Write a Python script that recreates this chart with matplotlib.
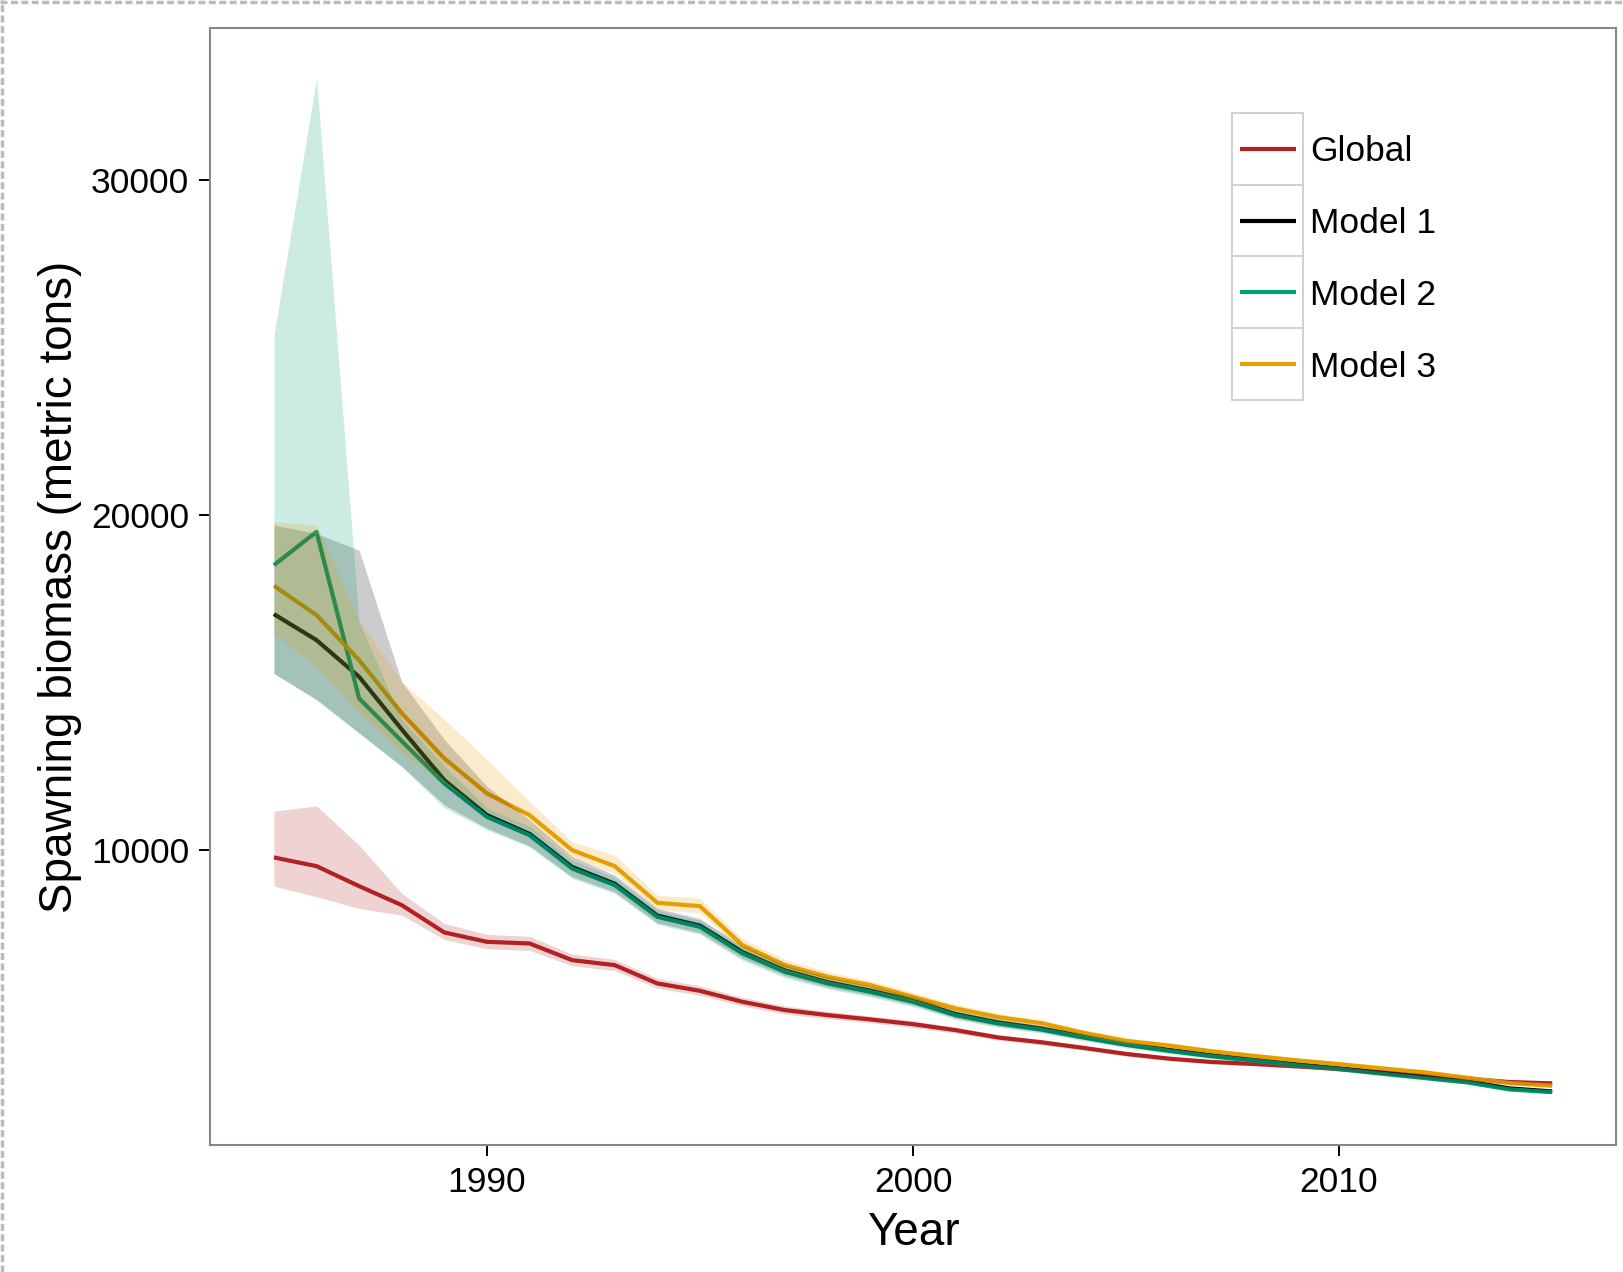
import numpy as np
import matplotlib
matplotlib.use("Agg")
import matplotlib.pyplot as plt
from matplotlib.lines import Line2D
from matplotlib.patches import Rectangle

plt.rcParams['font.family'] = ['Liberation Sans', 'DejaVu Sans']

years = list(range(1985, 2016))

series = ["Global", "Model 1", "Model 2", "Model 3"]
colors = {"Global": "#B22222", "Model 1": "#000000",
          "Model 2": "#009E73", "Model 3": "#E69F00"}

# spawning biomass estimates (metric tons) with lower / upper bounds
global_mid = [9777, 9517, 8920, 8353, 7537, 7257, 7208, 6710, 6561, 6014, 5794,
              5465, 5217, 5068, 4939, 4799, 4620, 4400, 4260, 4090, 3910, 3770,
              3670, 3610, 3540, 3460, 3370, 3270, 3170, 3070, 3030]
global_lo = [8920, 8601, 8254, 8054, 7328, 7050, 7000, 6540, 6400, 5870, 5660,
             5340, 5100, 4960, 4840, 4700, 4530, 4320, 4180, 4020, 3840, 3710,
             3610, 3550, 3480, 3400, 3310, 3210, 3110, 3010, 2970]
global_hi = [11160, 11318, 10144, 8702, 7806, 7480, 7420, 6890, 6730, 6170, 5940,
             5600, 5340, 5180, 5040, 4900, 4710, 4480, 4340, 4160, 3980, 3830,
             3730, 3670, 3600, 3520, 3430, 3330, 3230, 3130, 3090]

m1_mid = [17043, 16266, 15171, 13600, 12085, 11040, 10480, 9490, 8990, 8040, 7740,
          6950, 6400, 6050, 5800, 5500, 5100, 4850, 4670, 4430, 4210, 4030,
          3870, 3740, 3600, 3480, 3350, 3220, 3090, 2880, 2790]
m1_lo = [15270, 14500, 13500, 12500, 11350, 10650, 10120, 9200, 8750, 7820, 7530,
         6760, 6240, 5900, 5660, 5370, 4980, 4740, 4570, 4340, 4130, 3960,
         3800, 3680, 3540, 3420, 3290, 3170, 3040, 2840, 2750]
m1_hi = [19700, 19450, 18950, 15020, 13300, 11900, 10900, 9800, 9250, 8260, 7950,
         7140, 6560, 6200, 5940, 5630, 5220, 4960, 4770, 4520, 4290, 4100,
         3940, 3800, 3660, 3540, 3410, 3270, 3140, 2920, 2830]

m2_mid = [18506, 19500, 14525, 13250, 11990, 10990, 10443, 9447, 8950, 8003, 7704,
          6910, 6361, 6014, 5764, 5465, 5068, 4820, 4640, 4400, 4180, 4000,
          3840, 3710, 3570, 3455, 3320, 3190, 3060, 2850, 2768]
m2_lo = [15272, 14475, 13480, 12483, 11260, 10600, 10093, 9150, 8700, 7780, 7480,
         6700, 6180, 5850, 5610, 5320, 4940, 4700, 4530, 4300, 4090, 3920,
         3770, 3650, 3510, 3400, 3270, 3140, 3010, 2800, 2720]
m2_hi = [25377, 33040, 16800, 13900, 12500, 11250, 10700, 9700, 9180, 8200, 7900,
         7080, 6520, 6160, 5900, 5590, 5180, 4930, 4740, 4490, 4260, 4070,
         3900, 3770, 3630, 3510, 3370, 3240, 3110, 2900, 2810]

m3_mid = [17889, 17013, 15669, 14086, 12733, 11688, 11040, 9995, 9517, 8422, 8323,
          7158, 6561, 6212, 5964, 5614, 5268, 5010, 4830, 4540, 4300, 4160,
          3990, 3850, 3720, 3605, 3480, 3360, 3200, 3040, 2960]
m3_lo = [16460, 15470, 14085, 12890, 12000, 11150, 10650, 9750, 9300, 8230, 8120,
         6980, 6400, 6070, 5830, 5490, 5150, 4900, 4720, 4440, 4210, 4070,
         3910, 3770, 3650, 3530, 3410, 3290, 3130, 2980, 2900]
m3_hi = [19800, 19700, 16860, 15020, 13900, 12700, 11450, 10244, 9850, 8650, 8560,
         7350, 6730, 6360, 6100, 5740, 5390, 5120, 4940, 4640, 4390, 4250,
         4070, 3930, 3790, 3680, 3550, 3430, 3270, 3100, 3020]

mids = {"Global": global_mid, "Model 1": m1_mid, "Model 2": m2_mid, "Model 3": m3_mid}
lows = {"Global": global_lo, "Model 1": m1_lo, "Model 2": m2_lo, "Model 3": m3_lo}
highs = {"Global": global_hi, "Model 1": m1_hi, "Model 2": m2_hi, "Model 3": m3_hi}

W, H = 1623, 1272
fig = plt.figure(figsize=(W / 100, H / 100), dpi=100)
ax = fig.add_axes([210 / W, 1 - 1145 / H, 1406 / W, 1117 / H])

# lines first, ribbons on top (ggplot layer order)
for s in series:
    ax.plot(years, mids[s], color=colors[s], lw=3.0, solid_capstyle='butt',
            solid_joinstyle='round', zorder=2)
for s in series:
    ax.fill_between(years, lows[s], highs[s], color=colors[s], alpha=0.2,
                    lw=0, zorder=3)

ax.set_xlim(1983.5, 2016.5)
ax.set_ylim(1190, 34545)
ax.set_xticks([1990, 2000, 2010])
ax.set_yticks([10000, 20000, 30000])
ax.tick_params(length=8, width=1.4, color='black', labelsize=25.5, pad=7)
for sp in ax.spines.values():
    sp.set_color('#888888')
    sp.set_linewidth(1.5)

ax.set_xlabel("Year", fontsize=33)
ax.set_ylabel("Spawning biomass (metric tons)", fontsize=33)
ax.xaxis.label.set_va('center')
ax.yaxis.label.set_va('center')
ax.xaxis.set_label_coords(0.5, -0.079)
ax.yaxis.set_label_coords(-0.107, 0.5)

# legend: one bordered key per series
key_l, key_w, key_top, key_h = 1232, 71, 113, 71.75
for i, s in enumerate(series):
    top = key_top + i * key_h
    fig.add_artist(Rectangle((key_l / W, 1 - (top + key_h) / H), key_w / W, key_h / H,
                             transform=fig.transFigure, facecolor='white',
                             edgecolor='#d0d0d0', lw=1.4, zorder=5))
    yc = 1 - (top + key_h / 2) / H
    fig.add_artist(Line2D([1240 / W, 1296 / W], [yc, yc], transform=fig.transFigure,
                          color=colors[s], lw=3.0, solid_capstyle='butt', zorder=6))
    fig.text(1310 / W, yc - 3 / H, s, fontsize=25.5, va='center', ha='left', zorder=6)

# dashed page edge along top and left
fig.add_artist(Line2D([0, 1], [1 - 2 / H, 1 - 2 / H], transform=fig.transFigure,
                      color='#bbbbbb', lw=2.5, ls=(0, (2, 1))))
fig.add_artist(Line2D([2 / W, 2 / W], [0, 1], transform=fig.transFigure,
                      color='#bbbbbb', lw=2.5, ls=(0, (2, 1))))

fig.savefig("out.png", dpi=100)
